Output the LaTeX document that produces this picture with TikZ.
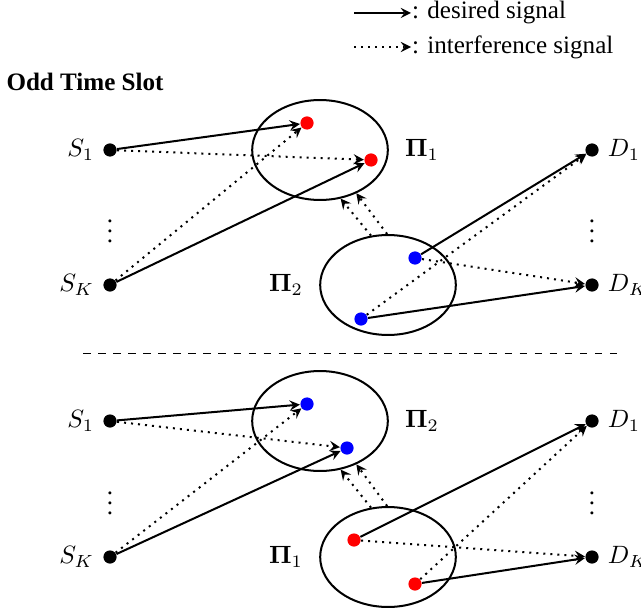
\documentclass[tikz,border=0pt]{standalone}
\usepackage{amsmath}
\usepackage{fontspec}
\setmainfont{Liberation Serif}
\usepackage{tikz}
\usetikzlibrary{shapes.geometric}

\begin{document}
\begin{tikzpicture}[x=0.014cm,y=-0.014cm,>=stealth,
  dot/.style={circle,fill,inner sep=0pt,minimum size=0.185cm},
  reddot/.style={dot,fill=red},
  bluedot/.style={dot,fill=blue},
  cluster/.style={ellipse,draw,thick,minimum width=1.9cm,minimum height=1.4cm},
  sig/.style={->,thick},
  intf/.style={->,thick,dotted}]
\path[use as bounding box] (0,0) rectangle (641,614);
\coordinate (lga) at (354,13);
\coordinate (lgb) at (411,13);
\coordinate (lgc) at (354,47);
\coordinate (lgd) at (411,47);
\draw[sig] (lga) -- (lgb) node[anchor=west,inner sep=0pt] (lgtxta) {: desired signal};
\draw[intf] (lgc) -- (lgd) node[anchor=west,inner sep=0pt] (lgtxtb) {: interference signal};
\node[anchor=west,inner sep=0pt,font=\bfseries] (oddslot) at (6,82) {Odd Time Slot};
\node[cluster] (clua) at (320,150) {};
\node[cluster] (club) at (388,285) {};
\node at (422,150) {$\boldsymbol{\Pi}_1$};
\node at (286,285) {$\boldsymbol{\Pi}_2$};
\node[dot,label=left:$S_1$] (sa1) at (110,150) {};
\node[dot,label=left:$S_K$] (saK) at (110,285) {};
\node[dot,label=right:$D_1$] (da1) at (592,150) {};
\node[dot,label=right:$D_K$] (daK) at (592,285) {};
\node[inner sep=0pt] at (110,224) {$\vdots$};
\node[inner sep=0pt] at (592,224) {$\vdots$};
\node[reddot] (ra1) at (307,123) {};
\node[reddot] (ra2) at (371,160) {};
\node[bluedot] (ba1) at (415,258) {};
\node[bluedot] (ba2) at (361,319) {};
\draw[sig] (sa1) -- (ra1);
\draw[intf] (sa1) -- (ra2);
\draw[intf] (saK) -- (ra1);
\draw[sig] (saK) -- (ra2);
\draw[sig] (ba1) -- (da1);
\draw[intf] (ba2) -- (da1);
\draw[intf] (ba1) -- (daK);
\draw[sig] (ba2) -- (daK);
\draw[intf] (club.109) -- (clua.-67);
\draw[intf] (club.91) -- (clua.-50);
\coordinate (sepa) at (83,353);
\coordinate (sepb) at (620,353);
\draw[dashed] (sepa) -- (sepb);
\node[cluster] (cluc) at (320,421) {};
\node[cluster] (clud) at (388,557) {};
\node at (422,421) {$\boldsymbol{\Pi}_2$};
\node at (286,557) {$\boldsymbol{\Pi}_1$};
\node[dot,label=left:$S_1$] (sb1) at (110,421) {};
\node[dot,label=left:$S_K$] (sbK) at (110,557) {};
\node[dot,label=right:$D_1$] (db1) at (592,421) {};
\node[dot,label=right:$D_K$] (dbK) at (592,557) {};
\node[inner sep=0pt] at (110,496) {$\vdots$};
\node[inner sep=0pt] at (592,496) {$\vdots$};
\node[bluedot] (bb1) at (307,404) {};
\node[bluedot] (bb2) at (347,448) {};
\node[reddot] (rb1) at (354,540) {};
\node[reddot] (rb2) at (415,584) {};
\draw[sig] (sb1) -- (bb1);
\draw[intf] (sb1) -- (bb2);
\draw[intf] (sbK) -- (bb1);
\draw[sig] (sbK) -- (bb2);
\draw[sig] (rb1) -- (db1);
\draw[intf] (rb2) -- (db1);
\draw[intf] (rb1) -- (dbK);
\draw[sig] (rb2) -- (dbK);
\draw[intf] (clud.109) -- (cluc.-67);
\draw[intf] (clud.91) -- (cluc.-50);
\end{tikzpicture}
\end{document}
